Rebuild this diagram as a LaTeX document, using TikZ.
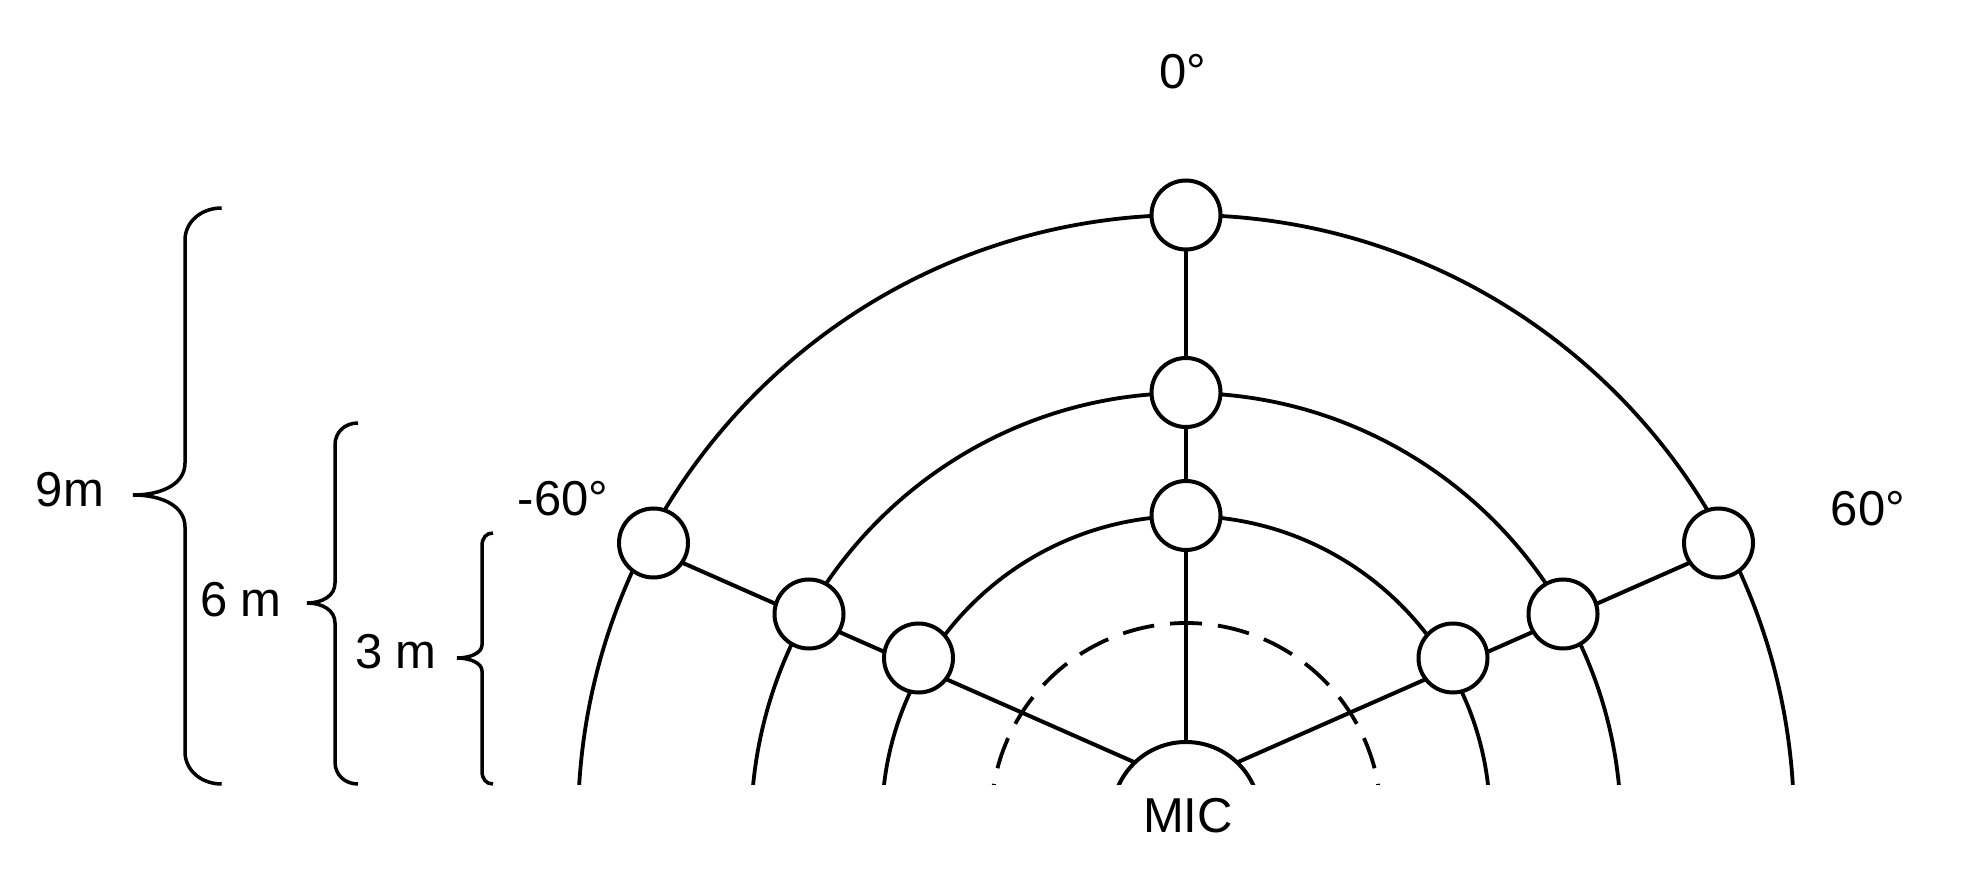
\documentclass[tikz,border=0pt]{standalone}
\usepackage{fontspec}
\setmainfont{Liberation Sans}
\usetikzlibrary{backgrounds}
\begin{document}
\begin{tikzpicture}[x=1pt,y=1pt,
  spot/.style={circle, draw=black, line width=4pt, fill=white, minimum size=69pt, inner sep=0pt},
  micshape/.style={circle, draw=black, line width=4pt, fill=white, minimum size=148pt, inner sep=0pt},
  lbl/.style={inner sep=0pt, font=\fontsize{49pt}{58pt}\selectfont},
  ring/.style={line width=3.8pt, draw=black},
  ray/.style={line width=4pt, draw=black},
  bracestyle/.style={line width=3.5pt, draw=black}]
\useasboundingbox (0,0) rectangle (1980,884);

% centres of the rings
\coordinate (hub) at (1186,99);
\coordinate (cO) at (1186,61);
\coordinate (cM) at (1186,56);
\coordinate (cI) at (1186,64);
\coordinate (cD) at (1186,66);

% measurement points
\node[spot] (oT) at (1186,669) {};
\node[spot] (mT) at (1186,491.5) {};
\node[spot] (iT) at (1186,368.5) {};
\node[spot] (oL) at (653.5,341) {};
\node[spot] (mL) at (809,270) {};
\node[spot] (iL) at (918.5,226) {};
\node[spot] (oR) at (1718.5,341) {};
\node[spot] (mR) at (1563,270) {};
\node[spot] (iR) at (1453,226) {};

% microphone
\begin{scope}
  \clip (0,100) rectangle (1980,884);
  \node[micshape] (mic) at (1186,68) {};
\end{scope}
\node[lbl] (miclabel) at (1188,68) {MIC};

% rings and rays behind the points
\begin{scope}[on background layer]
  \clip (0,100) rectangle (1980,884);
  \draw[ring] (cO) circle[radius=608pt];
  \draw[ring] (cM) circle[radius=435pt];
  \draw[ring] (cI) circle[radius=304pt];
  \draw[ring, dash pattern=on 32pt off 16pt, dash phase=16pt]
    (1186,261) arc[start angle=90, end angle=200, radius=195pt]
    (1186,261) arc[start angle=90, end angle=-20, radius=195pt];
  \draw[ray] (hub) -- (oT.center);
  \draw[ray] (hub) -- ([yshift=-7pt]oL.center);
  \draw[ray] (hub) -- ([yshift=-7pt]oR.center);
\end{scope}

% angle labels
\node[lbl] (zero) at (1183,812) {0°};
\node[lbl] (neg) at (563,385) {-60°};
\node[lbl] (pos) at (1868,375) {60°};

% braces
\draw[bracestyle] (221.7,676) .. controls (201,676) and (185,662) .. (185,644)
  -- (185,421) .. controls (185,400) and (162,389) .. (133,389)
  .. controls (162,389) and (185,378) .. (185,357)
  -- (185,132) .. controls (185,114) and (201,100) .. (221.7,100);
\draw[bracestyle] (358,461) .. controls (345,461) and (335,452) .. (335,439)
  -- (335,301) .. controls (335,288) and (322,281) .. (307,281)
  .. controls (322,281) and (335,274) .. (335,261)
  -- (335,122) .. controls (335,109) and (345,100) .. (358,100);
\draw[bracestyle] (493,351) .. controls (486,351) and (482,346) .. (482,338)
  -- (482,239) .. controls (482,231) and (470,226) .. (457,226)
  .. controls (470,226) and (482,221) .. (482,213)
  -- (482,113) .. controls (482,105) and (486,100) .. (493,100);

\node[lbl] (nine) at (70,394) {9m};
\node[lbl] (six) at (241,284) {6 m};
\node[lbl] (three) at (396,232) {3 m};
\end{tikzpicture}
\end{document}
